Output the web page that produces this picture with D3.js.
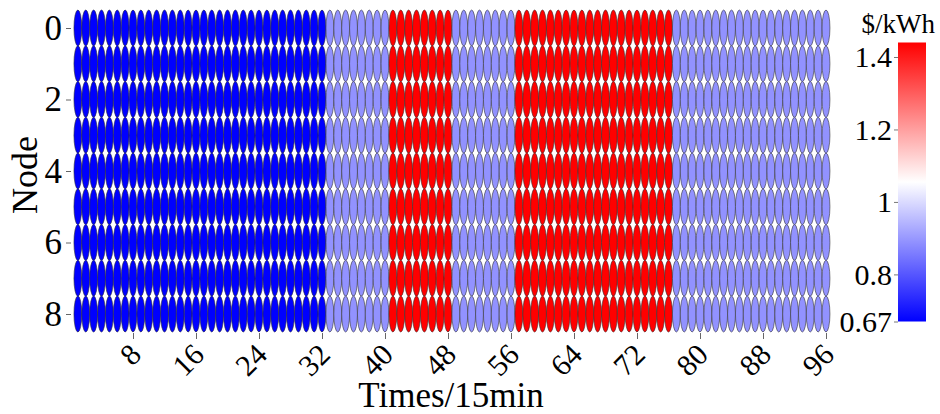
<!DOCTYPE html>
<html>
<head>
<meta charset="utf-8">
<script src="https://cdn.jsdelivr.net/npm/d3@7"></script>
<style>
  body { margin: 0; background: #fff; }
  svg, svg text { font-family: "Liberation Serif", "DejaVu Serif", serif; }
</style>
</head>
<body>
<svg id="chart" width="940" height="414"></svg>
<script>
// node ids (rows) and time slots (columns)
const nodes = [0, 1, 2, 3, 4, 5, 6, 7, 8];
const times = d3.range(1, 97);

// electricity price per 15-min slot, $/kWh (same for every node)
const prices = [
  0.67, 0.67, 0.67, 0.67, 0.67, 0.67, 0.67, 0.67,
  0.67, 0.67, 0.67, 0.67, 0.67, 0.67, 0.67, 0.67,
  0.67, 0.67, 0.67, 0.67, 0.67, 0.67, 0.67, 0.67,
  0.67, 0.67, 0.67, 0.67, 0.67, 0.67, 0.67, 0.67,
  0.89, 0.89, 0.89, 0.89, 0.89, 0.89, 0.89, 0.89,
  1.44, 1.44, 1.44, 1.44, 1.44, 1.44, 1.44, 1.44,
  0.89, 0.89, 0.89, 0.89, 0.89, 0.89, 0.89, 0.89,
  1.44, 1.44, 1.44, 1.44, 1.44, 1.44, 1.44, 1.44,
  1.44, 1.44, 1.44, 1.44, 1.44, 1.44, 1.44, 1.44,
  1.44, 1.44, 1.44, 1.44, 0.89, 0.89, 0.89, 0.89,
  0.89, 0.89, 0.89, 0.89, 0.89, 0.89, 0.89, 0.89,
  0.89, 0.89, 0.89, 0.89, 0.89, 0.89, 0.89, 0.89
];

const xTicks = [8, 16, 24, 32, 40, 48, 56, 64, 72, 80, 88, 96];
const yTicks = [0, 2, 4, 6, 8];
const colorTicks = [0.67, 0.8, 1, 1.2, 1.4];
const colorDomain = [0.67, 1.44];

const svg = d3.select('#chart');

const xScale = d3.scaleLinear().domain([0, 96]).range([70, 826]);
const yScale = d3.scaleLinear().domain([0, 8]).range([28, 314]);
const color = d3.scaleLinear()
  .domain([colorDomain[0], (colorDomain[0] + colorDomain[1]) / 2, colorDomain[1]])
  .range(['#0000ff', '#ffffff', '#ff0000']);

const rx = (xScale(1) - xScale(0)) / 2;
const ry = 18;

const cells = [];
nodes.forEach(n => times.forEach((t, i) => cells.push({ node: n, time: t, v: prices[i] })));

svg.append('g')
  .selectAll('ellipse')
  .data(cells)
  .enter()
  .append('ellipse')
  .attr('cx', d => xScale(d.time))
  .attr('cy', d => yScale(d.node))
  .attr('rx', rx)
  .attr('ry', ry)
  .attr('fill', d => color(d.v))
  .attr('stroke', '#333')
  .attr('stroke-width', 0.6);

// axes (ticks only, no domain line)
const xAxis = svg.append('g')
  .attr('transform', 'translate(0,333)')
  .call(d3.axisBottom(xScale).tickValues(xTicks).tickSize(6).tickPadding(4))
  .attr('font-family', null)
  .attr('font-size', 30);
xAxis.select('.domain').remove();
xAxis.selectAll('line').attr('stroke', '#666');
xAxis.selectAll('text')
  .attr('fill', '#000')
  .attr('text-anchor', 'end')
  .attr('dy', '0.3em')
  .attr('transform', 'translate(-4,10) rotate(-45)');

const yAxis = svg.append('g')
  .attr('transform', 'translate(71,0)')
  .call(d3.axisLeft(yScale).tickValues(yTicks).tickSize(5).tickPadding(4))
  .attr('font-family', null)
  .attr('font-size', 35);
yAxis.select('.domain').remove();
yAxis.selectAll('line').attr('stroke', '#666');
yAxis.selectAll('text').attr('fill', '#000');

svg.append('text')
  .attr('transform', 'translate(37,175) rotate(-90)')
  .attr('text-anchor', 'middle')
  .attr('font-size', 36)
  .text('Node');

svg.append('text')
  .attr('x', 451)
  .attr('y', 407)
  .attr('text-anchor', 'middle')
  .attr('font-size', 35)
  .text('Times/15min');

// colour bar
const cbX = 898, cbW = 28;
const cbScale = d3.scaleLinear().domain(colorDomain).range([321.5, 42.5]);

const grad = svg.append('defs').append('linearGradient')
  .attr('id', 'cb').attr('x1', 0).attr('y1', 1).attr('x2', 0).attr('y2', 0);
d3.range(0, 1.0001, 0.1).forEach(f => {
  grad.append('stop')
    .attr('offset', f)
    .attr('stop-color', color(colorDomain[0] + f * (colorDomain[1] - colorDomain[0])));
});

svg.append('rect')
  .attr('x', cbX)
  .attr('y', cbScale(colorDomain[1]))
  .attr('width', cbW)
  .attr('height', cbScale(colorDomain[0]) - cbScale(colorDomain[1]))
  .attr('fill', 'url(#cb)');

const cAxis = svg.append('g')
  .attr('transform', `translate(${cbX},0)`)
  .call(d3.axisLeft(cbScale).tickValues(colorTicks).tickFormat(d3.format('')).tickSize(4).tickPadding(2))
  .attr('font-family', null)
  .attr('font-size', 30);
cAxis.select('.domain').remove();
cAxis.selectAll('line').attr('stroke', '#777');
cAxis.selectAll('text').attr('fill', '#000');

svg.append('text')
  .attr('x', 935)
  .attr('y', 33)
  .attr('text-anchor', 'end')
  .attr('font-size', 27)
  .text('$/kWh');
</script>
</body>
</html>
